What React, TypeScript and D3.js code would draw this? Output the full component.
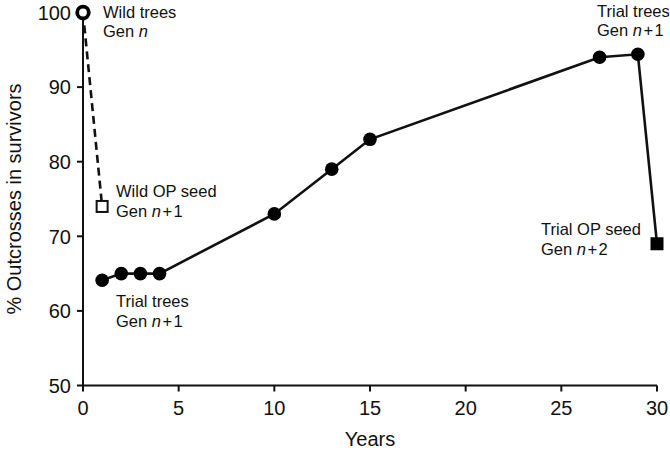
import React from "react";
import * as d3 from "d3";

const wildYears = [0, 1];
const wildValues = [100, 74];
const trialYears = [1, 2, 3, 4, 10, 13, 15, 27, 29];
const trialValues = [64.1, 65, 65, 65, 73, 79, 83, 94, 94.4];
const opSeedYear = 30;
const opSeedValue = 69;
const xTicks = [0, 5, 10, 15, 20, 25, 30];
const yTicks = [50, 60, 70, 80, 90, 100];

const W = 670, H = 453;
const x = d3.scaleLinear().domain([0, 30]).range([83, 657]);
const y = d3.scaleLinear().domain([50, 100]).range([385.5, 12.5]);

const FONT = "'Liberation Sans', Arial, Helvetica, sans-serif";

function GenN({ xx, yy, suffix }: { xx: number; yy: number; suffix?: string }) {
  return (
    <text x={xx} y={yy} fontFamily={FONT} fontSize={16.5} fill="#111">
      Gen <tspan fontStyle="italic">n</tspan>
      {suffix ? (
        <>
          <tspan dx={1.5}>+</tspan>
          <tspan dx={1.5}>{suffix}</tspan>
        </>
      ) : null}
    </text>
  );
}

export default function App() {
  const line = d3.line<[number, number]>().x(d => x(d[0])).y(d => y(d[1]));
  const wild: [number, number][] = wildYears.map((v, i) => [v, wildValues[i]]);
  const trial: [number, number][] = trialYears.map((v, i) => [v, trialValues[i]]);
  const trialFull: [number, number][] = [...trial, [opSeedYear, opSeedValue]];
  const ann = { fontFamily: FONT, fontSize: 16.5, fill: "#111" };
  return (
    <svg width={W} height={H} style={{ position: "absolute", left: 0, top: 0 }}>
      <rect width={W} height={H} fill="#fff" />
      {/* axes */}
      <line x1={x(0)} x2={x(0)} y1={y(100)} y2={y(50)} stroke="#111" strokeWidth={2} />
      <line x1={x(0)} x2={x(30)} y1={y(50)} y2={y(50)} stroke="#111" strokeWidth={2} />
      {yTicks.map(t => (
        <g key={"y" + t}>
          <line x1={x(0) - 6} x2={x(0)} y1={y(t)} y2={y(t)} stroke="#111" strokeWidth={2} />
          <text x={x(0) - 12} y={y(t)} dy="0.36em" textAnchor="end" fontFamily={FONT} fontSize={20} fill="#111">{t}</text>
        </g>
      ))}
      {xTicks.map(t => (
        <g key={"x" + t}>
          <line x1={x(t)} x2={x(t)} y1={y(50)} y2={y(50) + 6} stroke="#111" strokeWidth={2} />
          <text x={x(t)} y={415} textAnchor="middle" fontFamily={FONT} fontSize={20} fill="#111">{t}</text>
        </g>
      ))}
      <text x={x(15)} y={446} textAnchor="middle" fontFamily={FONT} fontSize={20} fill="#111">Years</text>
      <text transform={`translate(21,${y(75)}) rotate(-90)`} textAnchor="middle" fontFamily={FONT} fontSize={20} fill="#111">% Outcrosses in survivors</text>
      {/* lines */}
      <path d={line(wild) || ""} fill="none" stroke="#111" strokeWidth={2.6} strokeDasharray="8,5" />
      <path d={line(trialFull) || ""} fill="none" stroke="#111" strokeWidth={2.6} />
      {trial.map((d, i) => (
        <circle key={i} cx={x(d[0])} cy={y(d[1])} r={6.8} fill="#000" />
      ))}
      <rect x={x(opSeedYear) - 6.5} y={y(opSeedValue) - 6.5} width={13} height={13} fill="#000" />
      <rect x={x(wildYears[1]) - 5.5} y={y(wildValues[1]) - 5.5} width={11} height={11} fill="#fff" stroke="#111" strokeWidth={2} />
      <circle cx={x(wildYears[0])} cy={y(wildValues[0])} r={5.8} fill="#fff" stroke="#000" strokeWidth={3.8} />
      {/* annotations */}
      <text {...ann} x={103} y={18}>Wild trees</text>
      <GenN xx={103} yy={37} />
      <text {...ann} x={116} y={197}>Wild OP seed</text>
      <GenN xx={116} yy={217} suffix="1" />
      <text {...ann} x={116} y={307}>Trial trees</text>
      <GenN xx={116} yy={327} suffix="1" />
      <text {...ann} x={597} y={17}>Trial trees</text>
      <GenN xx={597} yy={36} suffix="1" />
      <text {...ann} x={541} y={235}>Trial OP seed</text>
      <GenN xx={541} yy={255} suffix="2" />
    </svg>
  );
}
